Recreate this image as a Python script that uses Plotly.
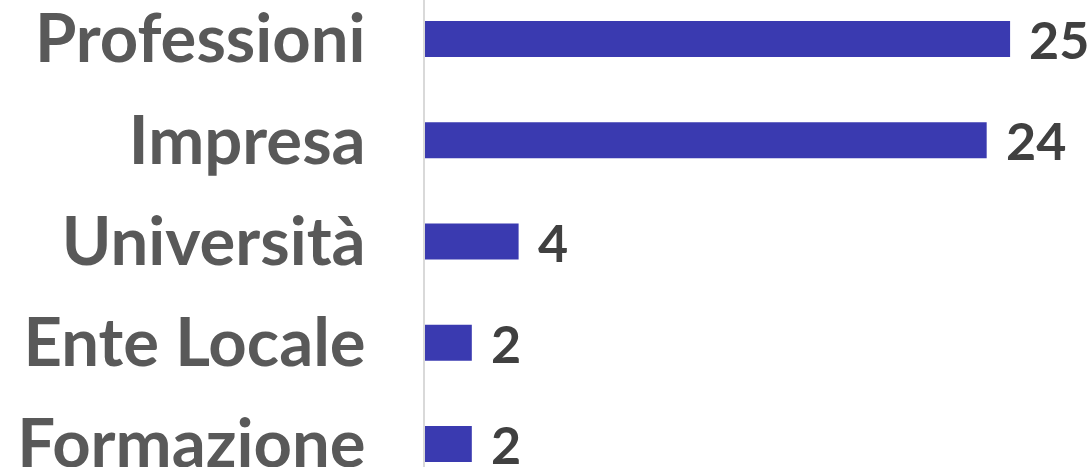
import plotly.graph_objects as go

categories = ["Professioni", "Impresa", "Università", "Ente Locale", "Formazione"]
values = [25, 24, 4, 2, 2]

bar_color = "#3a3ab0"
label_color = "#595959"
value_color = "#404040"
font_family = "Lato"

fig = go.Figure()
fig.add_trace(go.Bar(
    x=values,
    y=categories,
    orientation="h",
    marker=dict(color=bar_color, line=dict(width=0)),
    width=0.356,
    hoverinfo="skip",
))

for c, v in zip(categories, values):
    fig.add_annotation(
        x=v, y=c, text=f"<b>{v}</b>", showarrow=False,
        xanchor="left", yanchor="middle", xshift=17,
        font=dict(family=font_family, size=52, color=value_color),
    )

fig.update_layout(
    width=1092, height=467,
    margin=dict(l=425, r=0, t=0, b=0, autoexpand=False),
    paper_bgcolor="white", plot_bgcolor="white",
    showlegend=False,
    font=dict(family=font_family),
)
fig.update_xaxes(range=[0, 28.5], visible=False, showgrid=False, zeroline=False,
                 automargin=False)
fig.update_yaxes(
    type="category",
    categoryorder="array", categoryarray=categories,
    range=[4.227, -0.385],
    showline=True, linecolor="#d9d9d9", linewidth=2,
    ticks="", showgrid=False, zeroline=False, automargin=False,
    tickfont=dict(family=font_family, size=67, color=label_color, weight="bold"),
    ticklabelstandoff=44,
)

fig.write_html(
    "out.html",
    config={"displayModeBar": False, "staticPlot": True},
    post_script="document.body.style.margin='0';document.body.style.overflow='hidden';",
)
